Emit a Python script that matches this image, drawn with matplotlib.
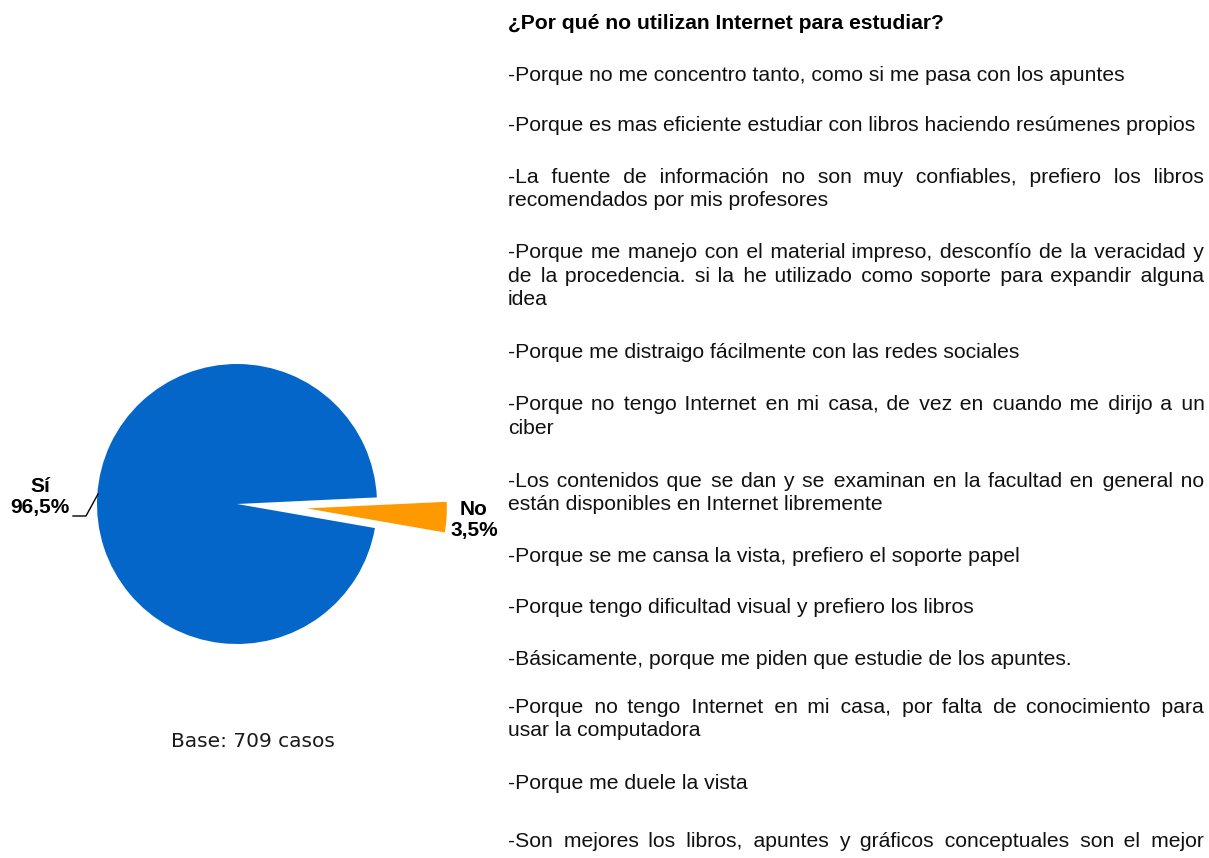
import matplotlib.pyplot as plt

##############
 # Data
##############

labels = ['Sí', 'No']
shares = [96.5, 3.5]
pct_text = ['96,5%', '3,5%']
slice_colors = ['#0566CA', '#FF9900']
base_note = 'Base: 709 casos'

title = '¿Por qué no utilizan Internet para estudiar?'
# each reason keeps the line breaks of the original layout
reasons = [
    ['-Porque no me concentro tanto, como si me pasa con los apuntes'],
    ['-Porque es mas eficiente estudiar con libros haciendo resúmenes propios'],
    ['-La fuente de información no son muy confiables, prefiero los libros',
     'recomendados por mis profesores'],
    ['-Porque me manejo con el material impreso, desconfío de la veracidad y',
     'de la procedencia. si la he utilizado como soporte para expandir alguna',
     'idea'],
    ['-Porque me distraigo fácilmente con las redes sociales'],
    ['-Porque no tengo Internet en mi casa, de vez en cuando me dirijo a un',
     'ciber'],
    ['-Los contenidos que se dan y se examinan en la facultad en general no',
     'están disponibles en Internet libremente'],
    ['-Porque se me cansa la vista, prefiero el soporte papel'],
    ['-Porque tengo dificultad visual y prefiero los libros'],
    ['-Básicamente, porque me piden que estudie de los apuntes.'],
    ['-Porque no tengo Internet en mi casa, por falta de conocimiento para',
     'usar la computadora'],
    ['-Porque me duele la vista'],
    # the rest of this one runs past the bottom of the page
    ['-Son mejores los libros, apuntes y gráficos conceptuales son el mejor'],
]
runs_on = [False] * 12 + [True]

##############
 # Plot
##############

W, H = 1209, 858
fig = plt.figure(figsize=(W / 100, H / 100), dpi=100)
ax = fig.add_axes([0, 0, 1, 1])

# pixel-like coordinates, y measured from the bottom
ax.pie(shares, colors=slice_colors, startangle=2.7, explode=[0, 70],
       radius=140, center=(237, H - 504), frame=True,
       wedgeprops=dict(linewidth=0))
ax.set_xlim(0, W)
ax.set_ylim(0, H)
ax.set_aspect('equal')
ax.axis('off')

lab_kw = dict(ha='center', va='center', fontsize=15, fontweight='bold',
              family=['Liberation Sans', 'DejaVu Sans'], linespacing=1.15)
ax.text(40, H - 497, f'{labels[0]}\n{pct_text[0]}', **lab_kw)
ax.text(474, H - 520, f'{labels[1]}\n{pct_text[1]}', **lab_kw)
# leader line for the big slice
ax.plot([73, 86, 98], [H - 516, H - 516, H - 494], color='black', lw=1)

ax.text(253, H - 747, base_note, ha='center', va='baseline', fontsize=14.5,
        family=['DejaVu Sans'], color='#1a1a1a')

##############
 # Text block
##############

renderer = fig.canvas.get_renderer()
body_font = ['Liberation Sans', 'DejaVu Sans']
x_left, x_right = 508, 1204
HAIR = '\u200a'


def text_width(text, size, **kw):
    t = ax.text(0, 0, text, fontsize=size, family=body_font, **kw)
    w = t.get_window_extent(renderer).width
    t.remove()
    return w


# scale the sizes so line widths agree with the original
title_size = 10 * 437 / text_width(title, 10, fontweight='bold')
body_size = 10 * 619 / text_width(reasons[0][0], 10)
hair_w = (text_width('a' + HAIR * 40 + 'a', body_size)
          - text_width('aa', body_size)) / 40

ax.text(x_left, H - 29, title, ha='left', va='baseline', fontsize=title_size,
        fontweight='bold', family=body_font)

body_kw = dict(ha='left', va='baseline', fontsize=body_size, family=body_font,
               color='#111111')


def justify(line):
    # pad the word gaps with hair spaces so the line fills the column
    words = line.split(' ')
    extra = (x_right - x_left) - text_width(line, body_size)
    n = len(words) - 1
    out, used = words[0], 0.0
    for i, w in enumerate(words[1:], 1):
        k = max(0, round((extra * i / n - used) / hair_w))
        used += k * hair_w
        out += ' ' + HAIR * k + w
    return out


first_baselines = [81, 131, 183, 258, 358, 410, 487, 562, 613, 665, 713, 789, 847]
line_step = 23.5
for lines, y0, more in zip(reasons, first_baselines, runs_on):
    for i, line in enumerate(lines):
        if more or i < len(lines) - 1:
            line = justify(line)
        ax.text(x_left, H - (y0 + i * line_step), line, **body_kw)

fig.savefig('out.png', dpi=100)
